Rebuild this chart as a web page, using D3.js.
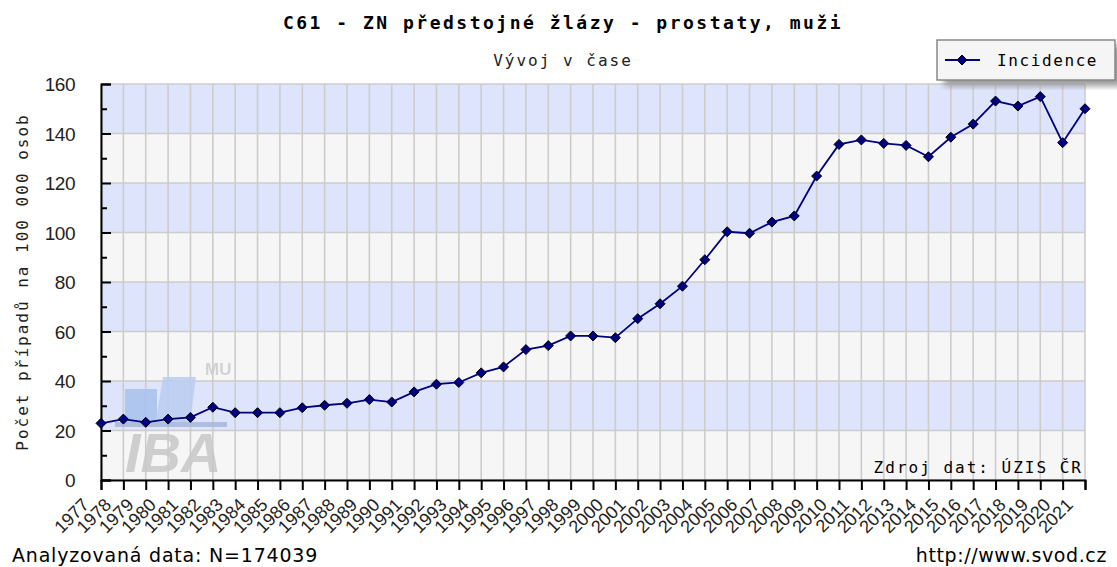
<!DOCTYPE html>
<html>
<head>
<meta charset="utf-8">
<script src="https://cdn.jsdelivr.net/npm/d3@7"></script>
<style>
body { margin: 0; background: #ffffff; }
</style>
</head>
<body>
<script>
var years = ["1977","1978","1979","1980","1981","1982","1983","1984","1985","1986",
             "1987","1988","1989","1990","1991","1992","1993","1994","1995","1996",
             "1997","1998","1999","2000","2001","2002","2003","2004","2005","2006",
             "2007","2008","2009","2010","2011","2012","2013","2014","2015","2016",
             "2017","2018","2019","2020","2021"];
var incidence = [22.9, 24.6, 23.3, 24.6, 25.3, 29.4, 27.2, 27.2, 27.2, 29.2,
                 30.2, 31.0, 32.5, 31.5, 35.6, 38.7, 39.4, 43.3, 45.7, 52.7,
                 54.3, 58.2, 58.2, 57.5, 65.2, 71.2, 78.3, 89.0, 100.3, 99.7,
                 104.2, 106.7, 122.8, 135.6, 137.4, 136.0, 135.2, 130.6, 138.5, 143.8,
                 153.1, 151.1, 154.9, 136.3, 150.0];
var yTicks = [0, 20, 40, 60, 80, 100, 120, 140, 160];
var yMinorTicks = [10, 30, 50, 70, 90, 110, 130, 150];

var title = "C61 - ZN předstojné žlázy - prostaty, muži";
var subtitle = "Vývoj v čase";
var yTitle = "Počet případů na 100 000 osob";
var seriesName = "Incidence";
var sourceText = "Zdroj dat: ÚZIS ČR";
var countText = "Analyzovaná data: N=174039";
var urlText = "http://www.svod.cz";

var w = 1117;
var h = 567;
var plotLeft = 101, plotRight = 1085, plotTop = 84, plotBottom = 480;

var mono = "'DejaVu Sans Mono', monospace";
var sans = "'Liberation Sans', Arial, sans-serif";

var xScale = d3.scalePoint()
				.domain(years)
				.range([plotLeft, plotRight]);

var yScale = d3.scaleLinear()
				.domain([0, 160])
				.range([plotBottom, plotTop]);

var svg = d3.select("body")
			.append("svg")
			.attr("width", w)
			.attr("height", h);

var defs = svg.append("defs");
defs.append("filter")
	.attr("id", "blur")
	.append("feGaussianBlur")
	.attr("stdDeviation", 3);

// alternating bands
var bands = d3.range(0, yTicks.length - 1);
svg.append("g")
	.selectAll("rect")
	.data(bands)
	.enter()
	.append("rect")
	.attr("x", plotLeft)
	.attr("width", plotRight - plotLeft)
	.attr("y", function(i){ return yScale(yTicks[i + 1]); })
	.attr("height", function(i){ return yScale(yTicks[i]) - yScale(yTicks[i + 1]); })
	.attr("fill", function(i){ return i % 2 == 1 ? "#dde4fb" : "#f6f6f6"; });

// grid
var grid = svg.append("g")
			.attr("stroke", "#cccccc")
			.attr("stroke-width", 1.6);

grid.selectAll(".vgrid")
	.data(years)
	.enter()
	.append("line")
	.attr("x1", function(d){ return xScale(d); })
	.attr("x2", function(d){ return xScale(d); })
	.attr("y1", plotTop)
	.attr("y2", plotBottom);

grid.selectAll(".hgrid")
	.data(yTicks)
	.enter()
	.append("line")
	.attr("x1", plotLeft)
	.attr("x2", plotRight)
	.attr("y1", function(d){ return yScale(d); })
	.attr("y2", function(d){ return yScale(d); });

// IBA watermark
var logo = svg.append("g").attr("opacity", 0.85);
logo.append("rect").attr("x", 125).attr("y", 389).attr("width", 32).attr("height", 37).attr("fill", "#a8c1ee");
logo.append("path").attr("d", "M163,377 L196,377 L190,423 L155,426 Z").attr("fill", "#bccdf2");
logo.append("rect").attr("x", 115).attr("y", 422).attr("width", 112).attr("height", 5).attr("fill", "#a9b8d8");
logo.append("text").attr("x", 205).attr("y", 375)
	.attr("font-family", sans).attr("font-weight", "bold").attr("font-size", "17px")
	.attr("fill", "#cccccc").text("MU");
logo.append("text").attr("x", 125).attr("y", 472)
	.attr("font-family", sans).attr("font-weight", "bold").attr("font-style", "italic")
	.attr("font-size", "56px").attr("fill", "#c8c8c8").text("IBA");

// axes
var xAxis = d3.axisBottom(xScale).tickSize(10).tickFormat("");
var yAxis = d3.axisRight(yScale).tickValues(yTicks).tickSize(10).tickFormat("");
var yMinor = d3.axisRight(yScale).tickValues(yMinorTicks).tickSize(6).tickFormat("");

var gx = svg.append("g")
			.attr("transform", "translate(0," + plotBottom + ")")
			.call(xAxis);
var gy = svg.append("g")
			.attr("transform", "translate(" + plotLeft + ",0)")
			.call(yAxis);
var gyMinor = svg.append("g")
			.attr("transform", "translate(" + plotLeft + ",0)")
			.call(yMinor);

svg.selectAll(".domain")
	.attr("stroke", "#000000")
	.attr("stroke-width", 2);
svg.selectAll(".tick line")
	.attr("stroke", "#000000")
	.attr("stroke-width", 2);
gyMinor.select(".domain").remove();

// tick labels
svg.append("g")
	.selectAll("text")
	.data(yTicks)
	.enter()
	.append("text")
	.attr("x", 75)
	.attr("y", function(d){ return yScale(d) + 7; })
	.attr("text-anchor", "end")
	.attr("font-family", sans)
	.attr("font-size", "19px")
	.attr("letter-spacing", "-0.5px")
	.attr("fill", "#222222")
	.text(function(d){ return d; });

svg.append("g")
	.selectAll("text")
	.data(years)
	.enter()
	.append("text")
	.attr("transform", function(d){ return "translate(" + (xScale(d) - 11) + "," + 506 + ") rotate(-45)"; })
	.attr("text-anchor", "end")
	.attr("font-family", sans)
	.attr("font-size", "18px")
	.attr("fill", "#222222")
	.text(function(d){ return d; });

// series
var line = d3.line()
			.x(function(d, i){ return xScale(years[i]); })
			.y(function(d){ return yScale(d); });

svg.append("path")
	.attr("d", line(incidence))
	.attr("fill", "none")
	.attr("stroke", "#000080")
	.attr("stroke-width", 1.8);

var diamond = "M0,-5 L5,0 L0,5 L-5,0 Z";

svg.append("g")
	.selectAll("path")
	.data(incidence)
	.enter()
	.append("path")
	.attr("transform", function(d, i){ return "translate(" + xScale(years[i]) + "," + yScale(d) + ")"; })
	.attr("d", diamond)
	.attr("fill", "#000080")
	.attr("stroke", "#000000")
	.attr("stroke-width", 1);

// titles
svg.append("text")
	.attr("x", 563)
	.attr("y", 29)
	.attr("text-anchor", "middle")
	.attr("font-family", mono)
	.attr("font-weight", "bold")
	.attr("font-size", "18px")
	.attr("letter-spacing", "2.5px")
	.attr("fill", "#000000")
	.text(title);

svg.append("text")
	.attr("x", 563)
	.attr("y", 66)
	.attr("text-anchor", "middle")
	.attr("font-family", mono)
	.attr("font-size", "16px")
	.attr("letter-spacing", "2px")
	.attr("fill", "#222222")
	.text(subtitle);

svg.append("text")
	.attr("transform", "translate(28,282) rotate(-90)")
	.attr("text-anchor", "middle")
	.attr("font-family", mono)
	.attr("font-size", "16px")
	.attr("letter-spacing", "2px")
	.attr("fill", "#222222")
	.text(yTitle);

svg.append("text")
	.attr("x", 1083)
	.attr("y", 473)
	.attr("text-anchor", "end")
	.attr("font-family", mono)
	.attr("font-size", "16px")
	.attr("letter-spacing", "2px")
	.attr("fill", "#000000")
	.text(sourceText);

svg.append("text")
	.attr("x", 12)
	.attr("y", 562)
	.attr("font-family", "'DejaVu Sans', sans-serif")
	.attr("font-size", "19px")
	.attr("letter-spacing", "0.8px")
	.attr("fill", "#000000")
	.text(countText);

svg.append("text")
	.attr("x", 1107)
	.attr("y", 562)
	.attr("text-anchor", "end")
	.attr("font-family", "'DejaVu Sans', sans-serif")
	.attr("font-size", "19px")
	.attr("letter-spacing", "0.6px")
	.attr("fill", "#000000")
	.text(urlText);

// legend
var legend = svg.append("g");
legend.append("rect")
	.attr("x", 944).attr("y", 46).attr("width", 180).attr("height", 40)
	.attr("fill", "#999999").attr("filter", "url(#blur)");
legend.append("rect")
	.attr("x", 937).attr("y", 40).attr("width", 178).attr("height", 40)
	.attr("fill", "#f5f5f5").attr("stroke", "#888888").attr("stroke-width", 1.5);
legend.append("line")
	.attr("x1", 945).attr("x2", 980).attr("y1", 60).attr("y2", 60)
	.attr("stroke", "#000080").attr("stroke-width", 2);
legend.append("path")
	.attr("transform", "translate(962,60)")
	.attr("d", diamond)
	.attr("fill", "#000080").attr("stroke", "#000000");
legend.append("text")
	.attr("x", 997).attr("y", 66)
	.attr("font-family", mono)
	.attr("font-size", "16px")
	.attr("letter-spacing", "1.6px")
	.attr("fill", "#000000")
	.text(seriesName);
</script>
</body>
</html>
